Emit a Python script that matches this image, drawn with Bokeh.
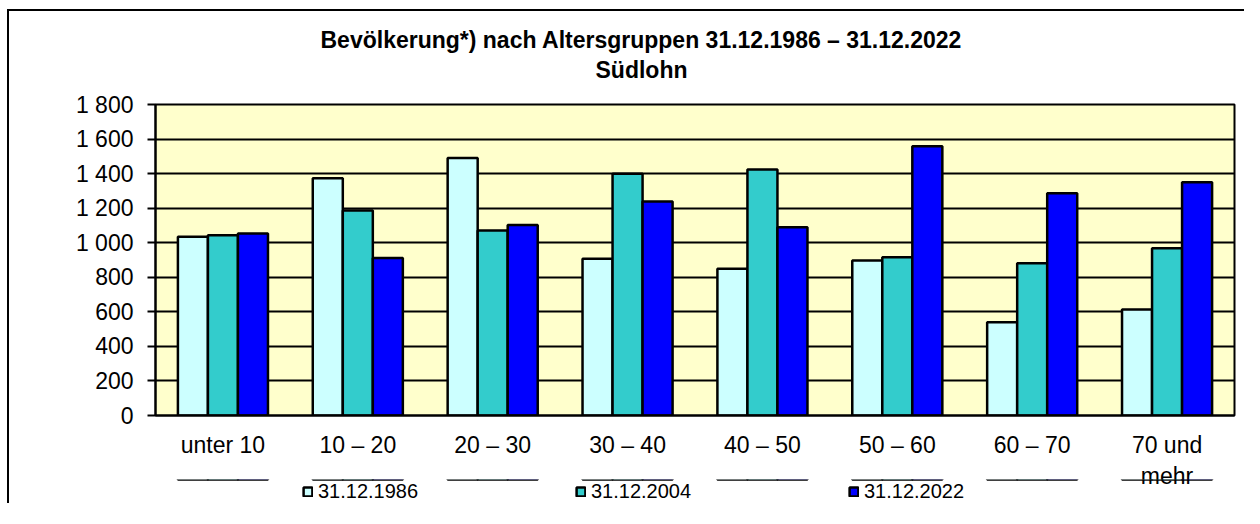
from bokeh.plotting import figure
from bokeh.layouts import column
from bokeh.models import (FactorRange, Range1d, FixedTicker, Title, Legend, LegendItem,
                          ColumnDataSource)
from bokeh.transform import dodge
from bokeh.embed import file_html
from bokeh.resources import INLINE

categories = ["unter 10", "10 – 20", "20 – 30", "30 – 40", "40 – 50",
              "50 – 60", "60 – 70", "70 und\nmehr"]
series_names = ["31.12.1986", "31.12.2004", "31.12.2022"]
v1986 = [1035, 1373, 1491, 907, 849, 897, 540, 613]
v2004 = [1043, 1186, 1071, 1399, 1424, 916, 881, 968]
v2022 = [1053, 912, 1103, 1238, 1090, 1559, 1287, 1350]
colors = ["#CCFFFF", "#33CCCC", "#0000FF"]
y_ticks = [0, 200, 400, 600, 800, 1000, 1200, 1400, 1600, 1800]
y_tick_labels = ["0", "200", "400", "600", "800", "1 000", "1 200", "1 400", "1 600", "1 800"]
title_line1 = "Bevölkerung*) nach Altersgruppen 31.12.1986 – 31.12.2022"
title_line2 = "Südlohn"

FONT = "Liberation Sans"

src = ColumnDataSource(dict(cat=categories, a=v1986, b=v2004, c=v2022))
cols = ["a", "b", "c"]
bw = 0.2226
offsets = [-bw, 0, bw]

x_range = FactorRange(*categories, range_padding=0)

p = figure(x_range=x_range, y_range=Range1d(0, 1800),
           frame_width=1079, frame_height=311, output_backend="svg", toolbar_location=None,
           min_border_left=155, min_border_right=10, min_border_top=104, min_border_bottom=66)
p.border_fill_color = None
p.background_fill_color = "#FFFFCC"
p.outline_line_color = "black"
p.outline_line_width = 2

for col, off, color in zip(cols, offsets, colors):
    p.vbar(x=dodge("cat", off, range=x_range), top=col, width=bw, bottom=0,
           source=src, fill_color=color, line_color="black", line_width=2.5)

# axes
p.yaxis.ticker = FixedTicker(ticks=y_ticks)
p.yaxis.major_label_overrides = {t: l for t, l in zip(y_ticks, y_tick_labels)}
p.yaxis.minor_tick_line_color = None
p.yaxis.major_tick_out = 8
p.yaxis.major_tick_in = 0
p.yaxis.major_tick_line_width = 2
p.yaxis.major_tick_line_color = "black"
p.yaxis.axis_line_width = 2
p.yaxis.axis_line_color = "black"
p.yaxis.major_label_standoff = 14
p.yaxis.major_label_text_font = FONT
p.yaxis.major_label_text_font_size = "23px"
p.yaxis.major_label_text_color = "black"

p.xaxis.major_tick_line_color = None
p.xaxis.minor_tick_line_color = None
p.xaxis.axis_line_width = 2
p.xaxis.axis_line_color = "black"
p.xaxis.major_label_standoff = 10
p.xaxis.major_label_text_font = FONT
p.xaxis.major_label_text_font_size = "23px"
p.xaxis.major_label_text_color = "black"

p.xgrid.grid_line_color = None
p.ygrid.grid_line_color = "black"
p.ygrid.grid_line_width = 2
p.ygrid.ticker = FixedTicker(ticks=y_ticks)

# title (two lines, centred at x ~ 641)
p.add_layout(Title(text=title_line2, align="left", offset=440, text_font=FONT,
                   text_font_style="bold", text_font_size="23px", text_color="black",
                   standoff=43), "above")
p.add_layout(Title(text=title_line1, align="left", offset=165, text_font=FONT,
                   text_font_style="bold", text_font_size="23px", text_color="black",
                   standoff=-39), "above")

# legend strip: same bars on a range where they are not visible; legend inside its frame
lf = figure(x_range=x_range, y_range=Range1d(-2000, -1000),
            frame_width=1079, frame_height=24, output_backend="svg", toolbar_location=None,
            min_border_left=155, min_border_right=10, min_border_top=0, min_border_bottom=0,
            x_axis_location=None, y_axis_location=None)
lf.border_fill_color = None
lf.background_fill_color = None
lf.outline_line_color = None
lf.grid.grid_line_color = None
lf.styles = {"margin-top": "-12px"}
leg_renderers = []
for col, off, color in zip(cols, offsets, colors):
    r = lf.vbar(x=dodge("cat", off, range=x_range), top=col, width=bw, bottom=0,
                source=src, fill_color=color, line_color="black", line_width=2.5)
    leg_renderers.append(r)

legend = Legend(items=[LegendItem(label=n, renderers=[r]) for n, r in zip(series_names, leg_renderers)],
                orientation="horizontal", location=(147, 0), padding=0, margin=0,
                spacing=0, label_width=257, label_standoff=5, glyph_width=11, glyph_height=11,
                label_height=16,
                label_text_font=FONT, label_text_font_size="20px", label_text_color="black",
                border_line_color=None, background_fill_alpha=0)
lf.add_layout(legend, "center")

layout = column(p, lf, spacing=0)
layout.styles = {"background": "linear-gradient(#000,#000) 7px 9px / 1237px 2px no-repeat, "
                               "linear-gradient(#000,#000) 7px 9px / 2px 499px no-repeat, #fff"}

open("out.html", "w").write(file_html(layout, INLINE))
